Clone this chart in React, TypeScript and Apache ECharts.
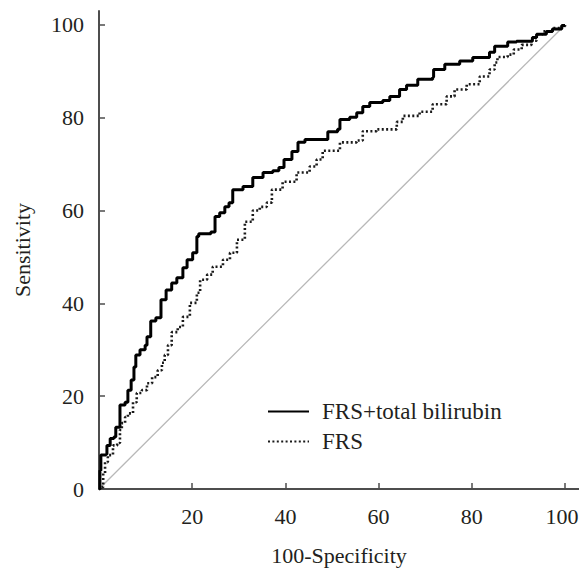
import React, { useEffect, useRef } from "react";
import * as echarts from "echarts";

// 100-Specificity (x) and Sensitivity (y) for FRS + total bilirubin
const combinedX = [0, 0.2, 0.4, 1.5, 1.7, 2.4, 3.2, 3.6, 4.5, 4.5, 5.6, 6.2, 6.9, 7.5, 7.9, 8.8, 9.9, 10.3, 11.1, 12.2, 13.3, 14.4, 15.6, 16.7, 18.0, 18.9, 20.1, 21.0, 21.4, 24.0, 24.9, 25.9, 27.0, 27.9, 28.7, 30.9, 33.0, 35.2, 37.3, 38.6, 39.7, 41.4, 42.7, 44.2, 47.4, 49.1, 51.2, 51.7, 53.8, 55.3, 56.6, 58.1, 60.9, 62.4, 64.5, 66.0, 68.4, 71.6, 71.8, 74.2, 77.4, 80.2, 83.8, 84.9, 87.7, 89.6, 93.0, 93.9, 96.0, 97.3, 99.3, 100];
const combinedY = [0, 4.0, 7.3, 7.5, 9.4, 10.9, 11.2, 13.3, 15.5, 18.1, 18.7, 21.3, 23.5, 26.3, 28.9, 30.0, 31.0, 32.8, 36.2, 36.9, 40.8, 42.9, 44.4, 45.5, 47.7, 49.4, 50.9, 54.4, 55.0, 55.4, 58.7, 59.5, 60.8, 61.7, 64.5, 65.2, 67.1, 68.2, 68.6, 69.3, 71.0, 72.7, 74.7, 75.3, 75.3, 77.0, 77.5, 79.6, 80.1, 81.1, 82.4, 83.3, 83.7, 84.6, 86.1, 87.0, 88.3, 88.7, 90.4, 91.5, 92.2, 93.0, 94.1, 95.4, 96.3, 96.5, 97.3, 98.0, 98.6, 99.1, 99.9, 100];

// FRS alone
const frsX = [0, 0.2, 0.9, 1.3, 1.9, 3.0, 3.9, 4.5, 4.9, 5.6, 6.2, 7.3, 8.1, 9.2, 10.3, 11.4, 12.6, 13.5, 14.1, 14.8, 15.6, 16.9, 18.0, 19.5, 21.0, 21.7, 23.2, 24.4, 26.6, 28.1, 29.6, 31.3, 33.0, 34.5, 36.0, 37.1, 39.4, 42.4, 45.2, 46.7, 48.0, 51.7, 55.3, 56.6, 59.6, 60.9, 63.9, 65.2, 68.8, 71.6, 74.6, 76.3, 78.9, 81.7, 83.8, 84.9, 85.5, 87.7, 89.0, 90.7, 92.8, 93.9, 95.2, 97.3, 99.3, 100];
const frsY = [0, 0.4, 3.4, 5.8, 7.3, 9.4, 9.9, 12.7, 14.2, 15.5, 16.3, 18.7, 20.7, 21.3, 22.8, 24.1, 25.6, 27.2, 28.9, 31.0, 33.8, 34.9, 37.1, 40.1, 42.3, 45.1, 46.2, 47.9, 49.4, 50.9, 53.7, 57.6, 60.0, 60.8, 61.7, 64.5, 66.2, 68.2, 69.5, 71.0, 72.9, 74.7, 75.1, 77.1, 77.5, 77.5, 79.1, 80.4, 81.3, 82.9, 84.6, 86.1, 87.2, 88.9, 90.4, 91.9, 93.1, 93.6, 94.7, 95.7, 96.6, 98.0, 98.6, 99.3, 99.7, 100];

const referenceX = [0, 100];
const referenceY = [0, 100];

const tickValues = [0, 20, 40, 60, 80, 100];
const xLabelValues = [20, 40, 60, 80, 100];

const seriesNames = ["FRS+total bilirubin", "FRS"];

const FONT = "Liberation Serif";
const AXIS_COLOR = "#4d4d4d";
const TEXT_COLOR = "#231f20";

export default function App() {
  const ref = useRef<HTMLDivElement>(null);

  useEffect(() => {
    document.body.style.margin = "0";
    if (!ref.current) return;
    const chart = echarts.init(ref.current, null, { renderer: "svg" });

    const zip = (xs: number[], ys: number[]) => xs.map((x, i) => [x, ys[i]]);

    const axisCommon = {
      type: "value" as const,
      min: 0,
      max: 103,
      splitLine: { show: false },
      axisLine: { show: true, lineStyle: { color: AXIS_COLOR, width: 2 } },
      axisTick: {
        show: true,
        inside: true,
        length: 6,
        lineStyle: { color: AXIS_COLOR, width: 1.5 },
        customValues: tickValues,
      },
      nameLocation: "middle" as const,
      nameTextStyle: { fontFamily: FONT, fontSize: 22, color: TEXT_COLOR },
    };

    const lastX = xLabelValues[xLabelValues.length - 1];

    chart.setOption({
      animation: false,
      backgroundColor: "#ffffff",
      grid: {
        left: 99,
        right: 0,
        top: 11,
        bottom: 79,
        containLabel: false,
        outerBoundsMode: "none",
      },
      legend: {
        data: seriesNames,
        orient: "vertical",
        left: 267,
        top: 400,
        padding: 0,
        itemWidth: 41,
        itemHeight: 14,
        itemGap: 7,
        itemStyle: { opacity: 0 },
        textStyle: { fontFamily: FONT, fontSize: 23, color: TEXT_COLOR, padding: [0, 0, 0, 8] },
      },
      xAxis: {
        ...axisCommon,
        name: "100-Specificity",
        nameGap: 55,
        axisLabel: {
          customValues: xLabelValues,
          fontFamily: FONT,
          fontSize: 22,
          color: TEXT_COLOR,
          margin: 16,
          formatter: (v: number) => (v === lastX ? `{last|${v}}` : `${v}`),
          rich: {
            last: {
              fontFamily: FONT,
              fontSize: 22,
              color: TEXT_COLOR,
              padding: [0, 6, 0, 0],
            },
          },
        },
      },
      yAxis: {
        ...axisCommon,
        name: "Sensitivity",
        nameGap: 66,
        axisLabel: {
          customValues: tickValues,
          fontFamily: FONT,
          fontSize: 22,
          color: TEXT_COLOR,
          margin: 15,
        },
      },
      series: [
        {
          name: "reference",
          type: "line",
          data: zip(referenceX, referenceY),
          symbol: "none",
          silent: true,
          lineStyle: { color: "#b8b8b8", width: 1.3 },
        },
        {
          name: seriesNames[1],
          type: "line",
          data: zip(frsX, frsY),
          symbol: "none",
          step: "end",
          itemStyle: { color: "#1a1a1a" },
          lineStyle: { color: "#1a1a1a", width: 2.6, type: [2, 2.4] },
        },
        {
          name: seriesNames[0],
          type: "line",
          data: zip(combinedX, combinedY),
          symbol: "none",
          step: "end",
          itemStyle: { color: "#000000" },
          lineStyle: { color: "#000000", width: 3 },
        },
      ],
    });

    return () => chart.dispose();
  }, []);

  return <div ref={ref} style={{ width: 579, height: 568 }} />;
}
